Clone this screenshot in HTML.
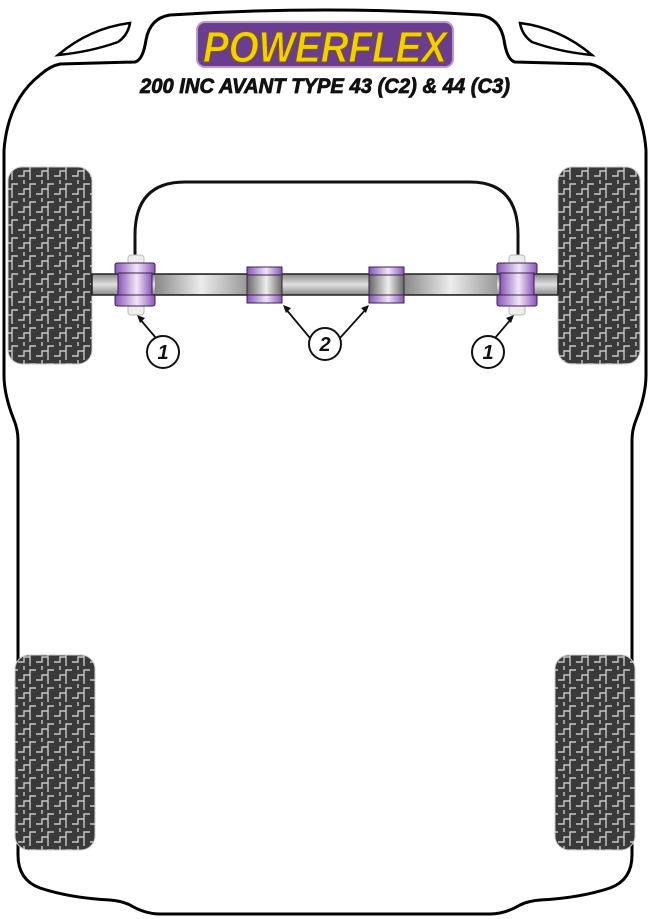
<!DOCTYPE html>
<html><head><style>
html,body{margin:0;padding:0;background:#fff;}
svg{display:block;}
</style></head><body>
<svg width="650" height="919" viewBox="0 0 650 919" xmlns="http://www.w3.org/2000/svg">
<defs>
<pattern id="tread" width="18" height="18" patternUnits="userSpaceOnUse">
<rect width="18" height="18" fill="#3a3a3a"/>
<path d="M0 14 H6 V9 H12 V4 H18 M6 0 V4 M12 9 V18" stroke="#c8c8c8" stroke-width="1.4" fill="none"/>
</pattern>
<linearGradient id="bar" x1="0" y1="0" x2="1" y2="0">
<stop offset="0" stop-color="#888"/><stop offset="0.5" stop-color="#ececec"/><stop offset="1" stop-color="#999"/>
</linearGradient>
<linearGradient id="barv" x1="0" y1="0" x2="0" y2="1">
<stop offset="0" stop-color="#888"/><stop offset="0.5" stop-color="#e0e0e0"/><stop offset="1" stop-color="#888"/>
</linearGradient>
<linearGradient id="pur" x1="0" y1="0" x2="1" y2="0">
<stop offset="0" stop-color="#8a55b8"/><stop offset="0.55" stop-color="#f0e6f8"/><stop offset="1" stop-color="#8a55b8"/>
</linearGradient>
<linearGradient id="grey" x1="0" y1="0" x2="1" y2="0">
<stop offset="0" stop-color="#666"/><stop offset="0.55" stop-color="#eee"/><stop offset="1" stop-color="#666"/>
</linearGradient>
</defs>

<path d="M4 375 L4 150 Q8 100 40 75 Q50 66 60 64 L135 62 Q143 60 146 40 Q150 18 170 15 Q325 5 480 15 Q500 18 504 40 Q507 60 515 62 L590 64 Q600 66 610 75 Q642 100 646 150 L646 375 Q646 395 636 420 Q632 430 632 440 L632 855 Q632 880 610 888 Q580 898 540 900 Q528 901 520 905 Q505 914 490 914 L160 914 Q145 914 130 905 Q122 901 110 900 Q70 898 40 888 Q18 880 18 855 L18 440 Q18 430 14 420 Q4 395 4 375 Z" fill="none" stroke="#000" stroke-width="3"/>
<path d="M58 55 Q90 28 130 23 Q128 35 118 42 Q90 52 58 55 Z" fill="none" stroke="#000" stroke-width="2.5"/>
<path d="M592 55 Q560 28 520 23 Q522 35 532 42 Q560 52 592 55 Z" fill="none" stroke="#000" stroke-width="2.5"/>

<rect x="197" y="22" width="256" height="45" rx="8" fill="#6a3d91" stroke="#b99ad0" stroke-width="2"/>
<text x="325" y="62" text-anchor="middle" font-family="Liberation Sans, sans-serif" font-weight="bold" font-style="italic" font-size="44" fill="#f5d000" stroke="#7a5d00" stroke-width="1" textLength="244" lengthAdjust="spacingAndGlyphs">POWERFLEX</text>
<text x="325" y="93" text-anchor="middle" font-family="Liberation Sans, sans-serif" font-weight="bold" font-style="italic" font-size="21" fill="#111" stroke="#111" stroke-width="0.8" textLength="370" lengthAdjust="spacingAndGlyphs">200 INC AVANT TYPE 43 (C2) &amp; 44 (C3)</text>

<rect x="8" y="167" width="84" height="197" rx="14" fill="url(#tread)" stroke="#ccc"/>
<rect x="558" y="167" width="82" height="197" rx="14" fill="url(#tread)" stroke="#ccc"/>
<rect x="15" y="655" width="80" height="195" rx="14" fill="url(#tread)" stroke="#ccc"/>
<rect x="555" y="655" width="80" height="195" rx="14" fill="url(#tread)" stroke="#ccc"/>

<path d="M135 258 L135 235 Q135 182 185 182 L470 182 Q518 182 518 235 L518 258" fill="none" stroke="#111" stroke-width="3"/>

<rect x="92" y="274" width="466" height="21" fill="url(#barv)" stroke="#222" stroke-width="1.5"/>
<rect x="155" y="275" width="92" height="19" fill="url(#bar)"/>
<rect x="404" y="275" width="93" height="19" fill="url(#bar)"/>

<g>
<rect x="128" y="255" width="16" height="60" rx="3" fill="#eee" stroke="#bbb"/>
<rect x="115" y="263" width="40" height="11" rx="2" fill="url(#pur)" stroke="#3a2050"/>
<rect x="118" y="273" width="34" height="23" fill="url(#pur)" stroke="#3a2050"/>
<rect x="115" y="295" width="40" height="11" rx="2" fill="url(#pur)" stroke="#3a2050"/>
</g>
<g>
<rect x="509" y="255" width="16" height="60" rx="3" fill="#eee" stroke="#bbb"/>
<rect x="497" y="263" width="40" height="11" rx="2" fill="url(#pur)" stroke="#3a2050"/>
<rect x="500" y="273" width="34" height="23" fill="url(#pur)" stroke="#3a2050"/>
<rect x="497" y="295" width="40" height="11" rx="2" fill="url(#pur)" stroke="#3a2050"/>
</g>
<g>
<rect x="247" y="267" width="35" height="36" fill="url(#grey)" stroke="#3a2050"/>
<rect x="247" y="267" width="35" height="8" fill="url(#pur)" stroke="#3a2050"/>
<rect x="247" y="295" width="35" height="8" fill="url(#pur)" stroke="#3a2050"/>
</g>
<g>
<rect x="369" y="267" width="35" height="36" fill="url(#grey)" stroke="#3a2050"/>
<rect x="369" y="267" width="35" height="8" fill="url(#pur)" stroke="#3a2050"/>
<rect x="369" y="295" width="35" height="8" fill="url(#pur)" stroke="#3a2050"/>
</g>

<g stroke="#111" stroke-width="1.8" fill="none">
<line x1="156" y1="338" x2="139" y2="318"/>
<line x1="310" y1="338" x2="285" y2="308"/>
<line x1="340" y1="338" x2="367" y2="308"/>
<line x1="495" y1="338" x2="512" y2="318"/>
</g>
<g fill="#111">
<polygon points="137,315 145,318 140,323"/>
<polygon points="283,305 291,308 286,313"/>
<polygon points="369,305 361,308 366,313"/>
<polygon points="514,315 506,318 511,323"/>
</g>
<g fill="#fff" stroke="#111" stroke-width="2">
<circle cx="163" cy="352" r="16"/>
<circle cx="325" cy="344" r="16"/>
<circle cx="488" cy="352" r="16"/>
</g>
<g font-family="Liberation Sans, sans-serif" font-weight="bold" font-style="italic" font-size="20" text-anchor="middle" fill="#111">
<text x="163" y="359">1</text>
<text x="325" y="351">2</text>
<text x="488" y="359">1</text>
</g>
</svg>
</body></html>
